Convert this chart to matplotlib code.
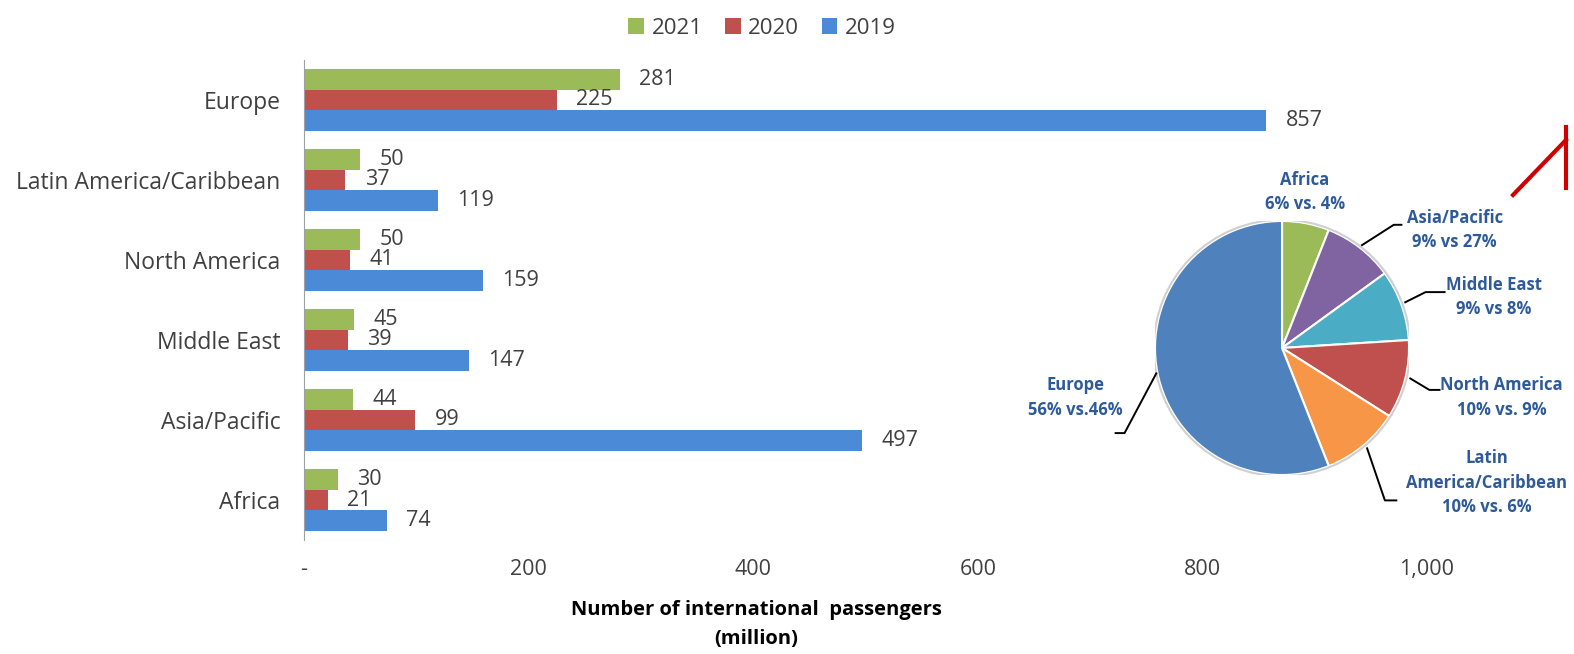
import numpy as np
import matplotlib
matplotlib.use('Agg')
import matplotlib.pyplot as plt

plt.rcParams['font.family'] = ['Open Sans', 'DejaVu Sans']

# 데이터
regions = ['Europe', 'Latin America/Caribbean', 'North America', 'Middle East', 'Asia/Pacific', 'Africa']
pax_2021 = [281, 50, 50, 45, 44, 30]
pax_2020 = [225, 37, 41, 39, 99, 21]
pax_2019 = [857, 119, 159, 147, 497, 74]
xticks = [0, 200, 400, 600, 800, 1000]
xtick_labels = ['-', '200', '400', '600', '800', '1,000']

# 파이 데이터 (시계방향, 12시부터)
pie_names = ['Africa', 'Asia/Pacific', 'Middle East', 'North America', 'Latin America/Caribbean', 'Europe']
pie_share = [6, 9, 9, 10, 10, 56]
pie_text = ['Africa\n6% vs. 4%', 'Asia/Pacific\n9% vs 27%', 'Middle East\n9% vs 8%',
            'North America\n10% vs. 9%', 'Latin\nAmerica/Caribbean\n10% vs. 6%', 'Europe\n56% vs.46%']

c21, c20, c19 = '#9BBB59', '#C0504D', '#4A8AD6'
pie_colors = ['#9BBB59', '#8064A2', '#4BACC6', '#C0504D', '#F79646', '#4F81BD']
txt_gray = '#404040'
lab_blue = '#2E5A9A'

fig = plt.figure(figsize=(15.74, 6.54), dpi=100)
ax = fig.add_axes([0.1931, 0.1743, 0.7135, 0.734])

y = np.arange(len(regions))
h = 0.256
b21 = ax.barh(y - h, pax_2021, height=h, color=c21, label='2021')
b20 = ax.barh(y, pax_2020, height=h, color=c20, label='2020')
b19 = ax.barh(y + h, pax_2019, height=h, color=c19, label='2019')
for b in (b21, b20, b19):
    ax.bar_label(b, padding=14, fontsize=15.5, color=txt_gray)

ax.set_ylim(len(regions) - 0.5, -0.5)
ax.set_xlim(0, 1000)
ax.set_yticks(y)
ax.set_yticklabels(regions, fontsize=16.5, color=txt_gray)
ax.set_xticks(xticks)
ax.set_xticklabels(xtick_labels, fontsize=15.5, color=txt_gray)
ax.tick_params(length=0)
ax.tick_params(axis='x', pad=14)
ax.tick_params(axis='y', pad=17)
for s in ['top', 'right', 'bottom']:
    ax.spines[s].set_visible(False)
ax.spines['left'].set_color('#A0A0A0')
ax.set_xlabel('Number of international  passengers\n(million)', fontsize=14.5, fontweight='bold',
              color='black', linespacing=1.6)
ax.xaxis.set_label_coords(0.4025, -0.125)
ax.xaxis.label.set_va('top')

ax.legend(loc='center', bbox_to_anchor=(0.408, 1.066), ncol=3, frameon=False,
          fontsize=16, handlelength=0.7, handleheight=0.7, handletextpad=0.35,
          columnspacing=1.0, labelcolor=txt_gray)

# 파이
pax = fig.add_axes([0.7338, 0.2737, 0.1614, 0.3884])
wedges, _ = pax.pie(pie_share, colors=pie_colors, startangle=90, counterclock=False,
                    wedgeprops=dict(edgecolor='white', linewidth=1.5))
pax.add_patch(plt.Circle((0, 0), 1.01, fill=False, edgecolor='#D0D0D0', linewidth=1.5))
pax.set_xlim(-1, 1)
pax.set_ylim(-1, 1)
pax.set_aspect('equal')
pax.axis('off')

# 라벨 위치 (반지름 단위)
label_pos = [(0.18, 1.23), (1.36, 0.93), (1.67, 0.40), (1.73, -0.39), (1.61, -1.06), (-1.63, -0.39)]
leaders = [None,
           [(0.63, 0.81), (0.88, 0.97), (0.94, 0.97)],
           [(0.97, 0.36), (1.13, 0.44), (1.28, 0.44)],
           [(1.01, -0.24), (1.16, -0.33), (1.24, -0.33)],
           [(0.67, -0.79), (0.81, -1.20), (0.90, -1.20)],
           [(-0.99, -0.20), (-1.24, -0.67), (-1.31, -0.67)]]
for (tx, ty), txt, ld in zip(label_pos, pie_text, leaders):
    pax.text(tx, ty, txt, ha='center', va='center', fontsize=12, fontweight='bold',
             color=lab_blue, linespacing=1.45, clip_on=False)
    if ld is not None:
        xs, ys = zip(*ld)
        pax.plot(xs, ys, color='black', linewidth=1.4, clip_on=False)

# 빨간 손글씨 표시
fig.add_artist(plt.Line2D([1513 / 1574, 1566 / 1574], [1 - 195 / 654, 1 - 140 / 654],
                          color='#D00000', linewidth=3))
fig.add_artist(plt.Line2D([1566 / 1574, 1566 / 1574], [1 - 127 / 654, 1 - 188 / 654],
                          color='#D00000', linewidth=3))

fig.savefig('out.png', dpi=100)
